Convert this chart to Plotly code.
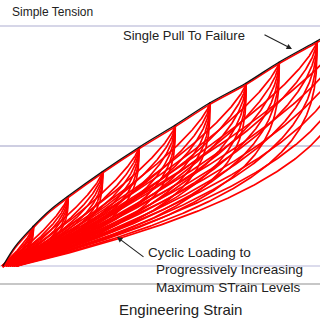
import numpy as np
import plotly.graph_objects as go

# ---- values (strain in %, stress in arbitrary units) ----
peak_strain = [10, 21, 32, 43.5, 55, 66, 77.5, 88, 100, 112]
peak_stress = [0.333, 0.583, 0.79, 0.99, 1.175, 1.36, 1.525, 1.70, 1.875, 2.05]
residual_strain = [0.0, 0.3, 0.6, 1.3, 1.9, 2.5, 3.2, 3.8, 4.4, 4.8]
envelope_strain = [0.3, 4.1, 10, 15.2, 21, 32, 43.5, 55, 66, 77.5, 88, 100, 112]
envelope_stress = [0.0, 0.16, 0.333, 0.465, 0.583, 0.79, 0.99, 1.175, 1.36, 1.525, 1.70, 1.875, 2.05]
branch_exponents = [0.33, 0.39, 0.46, 0.54, 0.63, 0.74]
guide_levels = [2.0, 1.0, 0.0, -0.15]
guide_colors = ["#aeaed2", "#9d9dc6", "#b8b8da", "#8f8f8f"]

X_RANGE = [-0.635, 100.95]
Y_RANGE = [-0.45, 2.2167]
W = H = 320


def px(xp):
    return xp / W


def py(yp):
    return 1 - yp / H


fig = go.Figure()

# guide lines
for lvl, col in zip(guide_levels, guide_colors):
    fig.add_shape(type="line", xref="paper", x0=0, x1=1, yref="y", y0=lvl, y1=lvl,
                  line=dict(color=col, width=1.2), layer="below")

RED = "#ff0000"
t = np.linspace(0, 1, 260)
for xp, sp, x0 in zip(peak_strain, peak_stress, residual_strain):
    for p in branch_exponents:
        s = 1 - (1 - t) ** 3
        xs = x0 + (xp - x0) * s
        ys = sp * (1 - (1 - s) ** p)
        fig.add_trace(go.Scatter(x=xs, y=ys, mode="lines",
                                 line=dict(color=RED, width=1.7),
                                 hoverinfo="skip", showlegend=False))

# red reloading path along the envelope
fig.add_trace(go.Scatter(x=envelope_strain, y=[v - 0.013 for v in envelope_stress], mode="lines",
                         line=dict(color=RED, width=1.6, shape="spline", smoothing=1.0),
                         hoverinfo="skip", showlegend=False))
# black single pull to failure
fig.add_trace(go.Scatter(x=envelope_strain, y=envelope_stress, mode="lines",
                         line=dict(color="#111111", width=1.3, shape="spline", smoothing=1.0),
                         hoverinfo="skip", showlegend=False))

FONT = "Liberation Sans, Arial, Helvetica, sans-serif"
TXT = "#222222"
ann = []


def label(text, x, y, size):
    ann.append(dict(text=text, xref="paper", yref="paper", x=px(x), y=py(y),
                    xanchor="left", yanchor="middle", showarrow=False,
                    font=dict(family=FONT, size=size, color=TXT)))


label("Simple Tension", 10, 12, 12)
label("Single Pull To Failure", 121, 35, 13)
label("Cyclic Loading to", 146, 252, 13.5)
label("Progressively Increasing", 154, 269.5, 13.5)
label("Maximum STrain Levels", 154, 287, 13.5)
ann.append(dict(text="Engineering Strain", xref="paper", yref="paper", x=px(180), y=py(309),
                xanchor="center", yanchor="middle", showarrow=False,
                font=dict(family=FONT, size=15, color=TXT)))

# arrows
for tip, tail in [((292, 49), (263, 34)), ((117, 237), (145, 258))]:
    ann.append(dict(text="", xref="paper", yref="paper", x=px(tip[0]), y=py(tip[1]),
                    ax=tail[0] - tip[0], ay=tail[1] - tip[1], showarrow=True,
                    arrowhead=2, arrowsize=1, arrowwidth=1.1, arrowcolor="#222222"))

fig.update_layout(width=W, height=H, margin=dict(l=0, r=0, t=0, b=0),
                  plot_bgcolor="white", paper_bgcolor="white",
                  xaxis=dict(range=X_RANGE, visible=False, fixedrange=True),
                  yaxis=dict(range=Y_RANGE, visible=False, fixedrange=True),
                  annotations=ann, showlegend=False)

fig.write_html("out.html")
